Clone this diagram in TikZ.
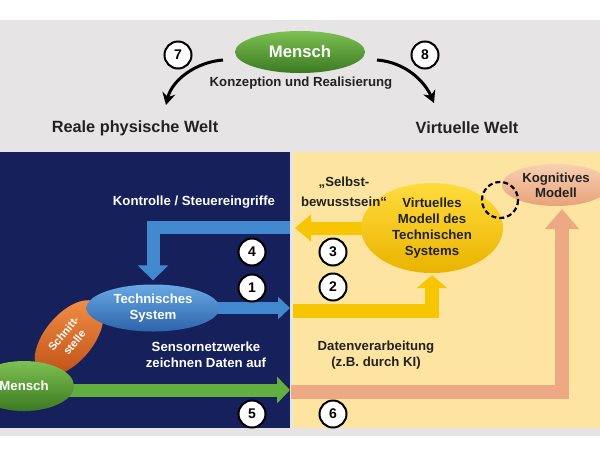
\documentclass[tikz,border=0pt]{standalone}
\usepackage{fontspec}
\setmainfont{Liberation Sans}
\usetikzlibrary{shapes.geometric,arrows.meta}
\pgfdeclarelayer{back}
\pgfdeclarelayer{bg}
\pgfsetlayers{back,bg,main}
\definecolor{navy}{HTML}{16205B}
\definecolor{paleyel}{HTML}{FDE4A0}
\definecolor{bandgray}{HTML}{E6E4E4}
\definecolor{txtdark}{HTML}{222222}
\definecolor{bluearr}{HTML}{4288CF}
\definecolor{yelarr}{HTML}{F7C600}
\definecolor{grnarr}{HTML}{62AE40}
\definecolor{pcharr}{HTML}{ECA983}
\definecolor{grnL}{HTML}{7DC052}
\definecolor{grnD}{HTML}{3C7A22}
\definecolor{bluL}{HTML}{69A8E4}
\definecolor{bluD}{HTML}{2C64AA}
\definecolor{orgL}{HTML}{F39146}
\definecolor{orgD}{HTML}{C2531A}
\definecolor{yelL}{HTML}{FFDC3C}
\definecolor{yelD}{HTML}{EAB300}
\definecolor{pchL}{HTML}{F8D0B2}
\definecolor{pchD}{HTML}{E8A27A}
\tikzset{
  lbl/.style={font=\bfseries\fontsize{13.2}{16}\selectfont, align=center, inner sep=0pt},
  whitelbl/.style={lbl, text=white},
  darklbl/.style={lbl, text=txtdark},
  titlelbl/.style={font=\bfseries\fontsize{16.3}{19}\selectfont, text=txtdark, inner sep=0pt},
  numc/.style={circle, draw=black, line width=2pt, fill=white, minimum size=27pt, inner sep=0pt, font=\bfseries\fontsize{14}{14}\selectfont, text=black},
  blob/.style={ellipse, inner sep=0pt, align=center, font=\bfseries\fontsize{13.2}{16}\selectfont},
  curvearr/.style={line width=3pt, draw=black, -{Stealth[length=12pt,width=13pt]}},
  fatarrow/.style={line join=miter, line cap=butt},
}
\begin{document}
\begin{tikzpicture}[x=1pt,y=-1pt]
\useasboundingbox (0,0) rectangle (600,456);
\begin{pgfonlayer}{back}
\fill[white] (0,0) rectangle (600,456);
\fill[bandgray] (0,20) rectangle (600,436);
\fill[navy] (0,152) rectangle (290,428);
\fill[paleyel] (293,152) rectangle (600,428);
\end{pgfonlayer}

% top part
\node[blob, minimum width=130pt, minimum height=42pt, top color=grnL, bottom color=grnD, text=white, font=\bfseries\fontsize{16.7}{18}\selectfont] (mt) at (300,52) {Mensch};
\node[darklbl] (konz) at (301,83) {Konzeption und Realisierung};
\node[numc] (c7) at (178,55) {7};
\node[numc] (c8) at (425,55) {8};
\node[titlelbl] (real) at (135,128) {Reale physische Welt};
\node[titlelbl] (virt) at (467,128) {Virtuelle Welt};
\coordinate (a7s) at (223,60);
\coordinate (a7e) at (166,105);
\coordinate (a8s) at (377,60);
\coordinate (a8e) at (434,103);
\draw[curvearr] (a7s) .. controls (196,62) and (172,80) .. (a7e);
\draw[curvearr] (a8s) .. controls (404,62) and (424,80) .. (a8e);

% real world side
\node[blob, rotate=50, minimum width=90pt, minimum height=48pt, top color=orgL, bottom color=orgD, text=white, font=\bfseries\fontsize{11}{14}\selectfont] (ss) at (69,338) {Schnitt-\\stelle};
\node[blob, minimum width=133pt, minimum height=47pt, top color=bluL, bottom color=bluD, text=white] (ts) at (153,308) {Technisches\\System};
\node[blob, minimum width=100pt, minimum height=50pt, top color=grnL, bottom color=grnD, text=white] (mb) at (24,386) {Mensch};
\node[whitelbl] (kontr) at (194,202) {Kontrolle / Steuereingriffe};
\node[whitelbl] (sens) at (206,355) {Sensornetzwerke\\zeichnen Daten auf};
\node[numc] (c4) at (252,252) {4};
\node[numc] (c1) at (252,288) {1};
\node[numc] (c5) at (252,414) {5};

% virtual side
\node[blob, minimum width=142pt, minimum height=90pt, top color=yelL, bottom color=yelD, text=txtdark] (vm) at (432,228) {Virtuelles\\Modell des\\Technischen\\Systems};
\node[blob, minimum width=108pt, minimum height=42pt, top color=pchL, bottom color=pchD, text=txtdark, font=\bfseries\fontsize{13.2}{15}\selectfont] (km) at (556,185) {Kognitives\\Modell};
\node[darklbl, font=\bfseries\fontsize{13.2}{20}\selectfont] (selbst) at (344,192) {\quotedblbase Selbst-\\bewusstsein\textquotedblleft};
\node[darklbl] (daten) at (376,355) {Datenverarbeitung\\(z.B. durch KI)};
\node[numc] (c3) at (333,252) {3};
\node[numc] (c2) at (333,287) {2};
\node[numc] (c6) at (333,414) {6};
\coordinate (dc) at (500,200);
\draw[black, line width=2.2pt, dash pattern=on 5pt off 3pt] (dc) circle[radius=18];

% arrows
\coordinate (b4s) at (290,227);
\coordinate (b1e) at (290,308);
\coordinate (y3e) at (295,228);
\coordinate (y2s) at (293,311);
\coordinate (g5e) at (290,390);
\coordinate (p6s) at (291,392);
\coordinate (p6e) at (562,209);
\begin{pgfonlayer}{bg}
\draw[fatarrow, line width=13pt, draw=bluearr, -{Triangle[length=15pt,width=30pt]}] (b4s) -| ([yshift=4pt]ts.north);
\draw[fatarrow, line width=12pt, draw=bluearr, -{Triangle[length=12pt,width=22pt]}] (ts.center) -- (b1e);
\draw[fatarrow, line width=13pt, draw=yelarr, -{Triangle[length=16pt,width=26pt]}] (vm.center) -- (y3e);
\draw[fatarrow, line width=14pt, draw=yelarr, -{Triangle[length=13pt,width=30pt]}] (y2s) -| ([yshift=-2pt]vm.south);
\draw[fatarrow, line width=13pt, draw=grnarr, -{Triangle[length=13pt,width=26pt]}] (mb.center |- g5e) -- (g5e);
\draw[fatarrow, line width=14pt, draw=pcharr, -{Triangle[length=20pt,width=33pt]}] (p6s) -| (p6e);
\end{pgfonlayer}
\end{tikzpicture}
\end{document}
